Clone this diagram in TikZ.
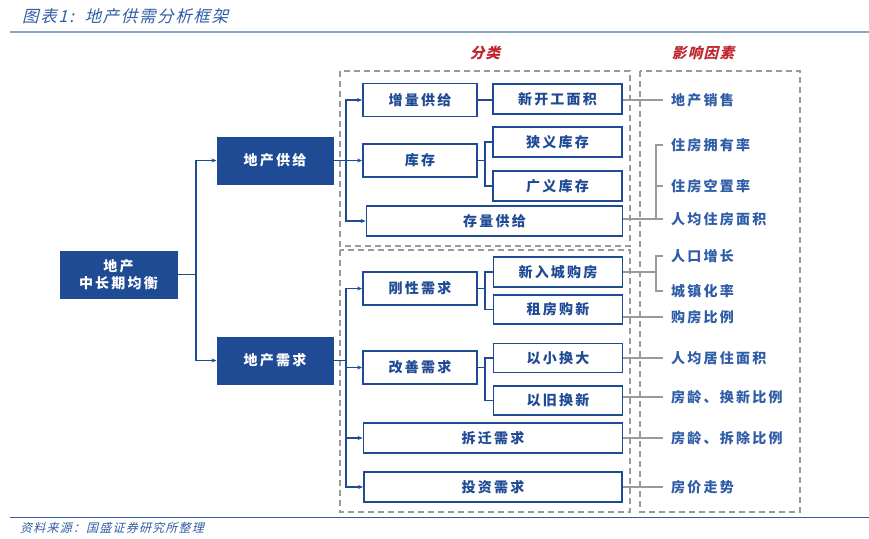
\documentclass[tikz,border=0pt]{standalone}
\usepackage{fontspec}
\usetikzlibrary{arrows.meta}
\newfontfamily\cjk[LetterSpace=16]{Noto Sans CJK SC}
\newfontfamily\cjkit[FakeSlant=0.25,LetterSpace=10]{Noto Sans CJK SC}
\definecolor{navy}{HTML}{1F4A94}
\definecolor{tblue}{HTML}{2F5DA6}
\definecolor{lgray}{HTML}{9A9A9A}
\definecolor{dred}{HTML}{C0252E}
\definecolor{rule}{HTML}{8CA6C0}
\tikzset{
  fillbox/.style={draw=navy, fill=navy, text=white, line width=1pt, font=\cjk\bfseries\fontsize{14}{17}\selectfont, align=center, inner sep=0pt},
  wbox/.style={draw=navy, fill=white, text=navy, line width=1.8pt, font=\cjk\bfseries\fontsize{14}{17}\selectfont, inner sep=0pt},
  bl/.style={draw=navy, line width=1.5pt},
  blarrow/.style={bl, -{Stealth[length=5pt,width=4pt]}},
  gr/.style={draw=lgray, line width=1.6pt},
  dashbox/.style={draw=lgray, line width=1.6pt, dash pattern=on 6pt off 4pt},
  factor/.style={anchor=west, inner xsep=8pt, inner ysep=0pt, text=tblue, font=\cjk\bfseries\fontsize{14}{17}\selectfont},
  redlab/.style={text=dred, font=\cjkit\bfseries\fontsize{14.5}{17}\selectfont}
}
\begin{document}
\begin{tikzpicture}[x=1pt,y=-1pt]
\useasboundingbox (0,0) rectangle (869,538);
% title
\node[anchor=west, inner sep=0pt, text=tblue, font=\cjkit\fontsize{16.5}{19}\selectfont] (title) at (22,16) {图表1:\ \ 地产供需分析框架};
\draw[draw=rule, line width=2.5pt] (10,32) -- (869,32);
\draw[draw=tblue, line width=1pt] (10,517) -- (869,517);
\node[anchor=west, inner sep=0pt, text=tblue, font=\cjkit\fontsize{12}{14}\selectfont] (src) at (20,528) {资料来源：国盛证券研究所整理};

% dashed regions
\draw[dashbox] (340,71) rectangle (630,246);
\draw[dashbox] (340,250) rectangle (630,512);
\draw[dashbox] (640,71) rectangle (800,512);
\node[redlab] (lab1) at (485,53) {分类};
\node[redlab] (lab2) at (703,53) {影响因素};

% main nodes
\node[fillbox, minimum width=117pt, minimum height=47pt] (root) at (118.5,274.5) {地产\\中长期均衡};
\node[fillbox, minimum width=116pt, minimum height=47pt] (sup) at (275,160.5) {地产供给};
\node[fillbox, minimum width=116pt, minimum height=47pt] (dem) at (275,360.5) {地产需求};

% supply boxes
\node[wbox, minimum width=114pt, minimum height=33pt] (zl) at (420,100) {增量供给};
\node[wbox, minimum width=129pt, minimum height=30pt] (xk) at (557.5,99) {新开工面积};
\node[wbox, minimum width=114pt, minimum height=33pt] (kc) at (420,160.5) {库存};
\node[wbox, minimum width=129pt, minimum height=30pt] (xy) at (557.5,142) {狭义库存};
\node[wbox, minimum width=129pt, minimum height=30pt] (gy) at (557.5,186) {广义库存};
\node[wbox, minimum width=256pt, minimum height=30pt] (cl) at (494.5,221) {存量供给};

% demand boxes
\node[wbox, minimum width=114pt, minimum height=33pt] (gx) at (420,288.5) {刚性需求};
\node[wbox, minimum width=129pt, minimum height=30pt] (xr) at (558,272) {新入城购房};
\node[wbox, minimum width=129pt, minimum height=29pt] (zf) at (558,309.5) {租房购新};
\node[wbox, minimum width=114pt, minimum height=33pt] (gs) at (420,367.5) {改善需求};
\node[wbox, minimum width=129pt, minimum height=29pt] (xd) at (558,358) {以小换大};
\node[wbox, minimum width=129pt, minimum height=29pt] (yj) at (558,400.5) {以旧换新};
\node[wbox, minimum width=259pt, minimum height=30pt] (cq) at (493,438) {拆迁需求};
\node[wbox, minimum width=258pt, minimum height=30pt] (tz) at (493,487) {投资需求};

% factors
\node[factor] (f1) at (663,100) {地产销售};
\node[factor] (f2) at (663,145) {住房拥有率};
\node[factor] (f3) at (663,186) {住房空置率};
\node[factor] (f4) at (663,219) {人均住房面积};
\node[factor] (f5) at (663,256) {人口增长};
\node[factor] (f6) at (663,291) {城镇化率};
\node[factor] (f7) at (663,317) {购房比例};
\node[factor] (f8) at (663,358) {人均居住面积};
\node[factor] (f9) at (663,397) {房龄、换新比例};
\node[factor] (f10) at (663,438) {房龄、拆除比例};
\node[factor] (f11) at (663,487) {房价走势};

% blue connectors
\coordinate (j0) at (196,274.5);
\draw[bl] (root.east) -- (j0);
\draw[blarrow] (j0) |- (sup.west);
\draw[blarrow] (j0) |- (dem.west);

\coordinate (j1) at (346,160.5);
\draw[blarrow] (sup.east) -- (kc.west);
\draw[blarrow] (j1) |- (zl.west);
\draw[blarrow] (j1) |- (cl.west);

\coordinate (j2) at (346,360.5);
\draw[bl] (dem.east) -- (j2);
\draw[blarrow] (j2) |- (gx.west);
\draw[blarrow] (j2) |- (gs.west);
\draw[blarrow] (j2) |- (cq.west);
\draw[blarrow] (j2) |- (tz.west);

\draw[bl] (zl.east) -- (zl.east -| xk.west);
\coordinate (j3) at (485,160.5);
\draw[bl] (kc.east) -- (j3);
\draw[bl] (j3) |- (xy.west);
\draw[bl] (j3) |- (gy.west);
\coordinate (j4) at (485,288.5);
\draw[bl] (gx.east) -- (j4);
\draw[bl] (j4) |- (xr.west);
\draw[bl] (j4) |- (zf.west);
\coordinate (j5) at (485,367.5);
\draw[bl] (gs.east) -- (j5);
\draw[bl] (j5) |- (xd.west);
\draw[bl] (j5) |- (yj.west);

% gray connectors
\draw[gr] (xk.east |- f1.west) -- (f1.west);
\draw[gr] (cl.east |- f4.west) -- (f4.west);
\draw[gr] (f2.west) -- ++(-7,0) |- (f4.west);
\draw[gr] (f3.west) -- ++(-7,0);
\draw[gr] (xr.east) -- ++(33,0);
\draw[gr] (f5.west) -- ++(-7,0) |- (f6.west);
\draw[gr] (zf.east |- f7.west) -- (f7.west);
\draw[gr] (xd.east) -- (f8.west);
\draw[gr] (yj.east |- f9.west) -- (f9.west);
\draw[gr] (cq.east) -- (f10.west);
\draw[gr] (tz.east) -- (f11.west);
\end{tikzpicture}
\end{document}
